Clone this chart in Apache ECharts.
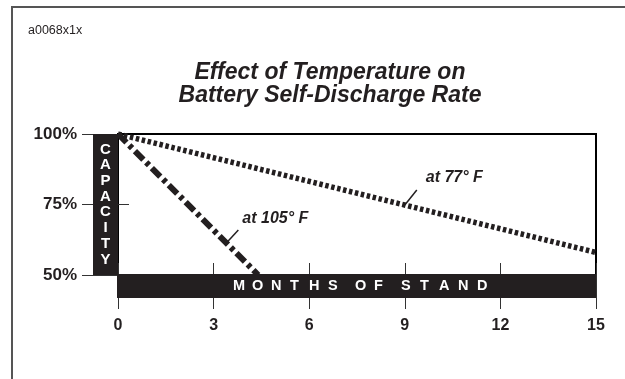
<!DOCTYPE html>
<html>
<head>
<meta charset="utf-8">
<title>Effect of Temperature on Battery Self-Discharge Rate</title>
<script src="https://cdn.jsdelivr.net/npm/echarts@6/dist/echarts.min.js"></script>
<style>
  html, body { margin: 0; padding: 0; background: #fff; }
  #chart { width: 625px; height: 379px; }
</style>
</head>
<body>
<div id="chart"></div>
<script>
  // data
  const monthTicks = [0, 3, 6, 9, 12, 15]
  const capacityTicks = [50, 75, 100]
  const at105F = [[0, 100], [4.4, 50]]
  const at77F = [[0, 100], [15, 58]]
  const seriesNames = ['at 105° F', 'at 77° F']
  const labelMonths = [3.4, 9]          // where each leader line touches its curve
  const xAxisTitle = 'MONTHS OF STAND'
  const yAxisTitle = 'CAPACITY'

  const ink = '#231f20'
  const font = 'Arial, "Liberation Sans", Helvetica, sans-serif'

  let myChart = echarts.init(document.getElementById('chart'))

  const grid = { left: 118, top: 134, width: 478, height: 141 }

  myChart.setOption({
    animation: false,
    backgroundColor: '#fff',
    textStyle: { fontFamily: font },
    title: {
      text: 'Effect of Temperature on\nBattery Self-Discharge Rate',
      left: 325,
      top: 56,
      textAlign: 'center',
      textStyle: {
        fontFamily: font,
        fontSize: 23,
        fontWeight: 'bold',
        fontStyle: 'italic',
        lineHeight: 23,
        color: ink
      }
    },
    grid: Object.assign({ show: true, borderColor: '#000', borderWidth: 2, backgroundColor: 'transparent' }, grid),
    xAxis: [
      {
        type: 'value',
        min: monthTicks[0],
        max: monthTicks[monthTicks.length - 1],
        interval: 3,
        position: 'bottom',
        splitLine: { show: false },
        axisLine: { show: false },
        axisTick: { show: true, length: 34, lineStyle: { color: '#333', width: 1 } },
        axisLabel: {
          margin: 43,
          fontSize: 16,
          fontWeight: 'bold',
          color: ink,
          fontFamily: font
        }
      },
      {
        // short ticks poking up from the month bar
        type: 'value',
        min: monthTicks[0],
        max: monthTicks[monthTicks.length - 1],
        interval: 3,
        position: 'bottom',
        splitLine: { show: false },
        axisLine: { show: false },
        axisTick: { show: true, inside: true, length: 12, lineStyle: { color: '#333', width: 1 } },
        axisLabel: { show: false }
      }
    ],
    yAxis: {
      type: 'value',
      min: capacityTicks[0],
      max: capacityTicks[capacityTicks.length - 1],
      interval: 25,
      splitLine: { show: false },
      axisLine: { show: false },
      axisTick: { show: true, length: 36, lineStyle: { color: '#333', width: 1 } },
      axisLabel: {
        margin: 41,
        fontSize: 17,
        fontWeight: 'bold',
        color: ink,
        fontFamily: font,
        formatter: '{value}%'
      }
    },
    series: [
      {
        name: seriesNames[0],
        type: 'line',
        data: at105F,
        symbol: 'none',
        z: 3,
        lineStyle: { color: ink, width: 6, type: [12, 4, 4, 4], cap: 'butt' }
      },
      {
        name: seriesNames[1],
        type: 'line',
        data: at77F,
        symbol: 'none',
        z: 3,
        lineStyle: { color: ink, width: 5.5, type: [3.5, 2.6], cap: 'butt' }
      }
    ]
  })

  // overlays: black axis bars, spaced letters, leader labels
  function drawOverlays() {
    const p0 = myChart.convertToPixel({ gridIndex: 0 }, [monthTicks[0], capacityTicks[0]])
    const p1 = myChart.convertToPixel({ gridIndex: 0 }, [monthTicks[monthTicks.length - 1], capacityTicks[capacityTicks.length - 1]])
    const left = p0[0], bottom = p0[1], right = p1[0], top = p1[1]
    const els = []

    // frame of the figure (only top and left edges fall inside the picture)
    els.push({ type: 'rect', shape: { x: 12, y: 7, width: 700, height: 500 }, style: { fill: null, stroke: '#555', lineWidth: 2 }, z: 1 })
    els.push({ type: 'text', left: 28, top: 24, style: { text: 'a0068x1x', font: '12.5px ' + font, fill: ink }, z: 5 })

    // capacity bar
    els.push({ type: 'rect', shape: { x: left - 25, y: top, width: 25, height: bottom - top }, style: { fill: ink }, z: 50 })
    const pitchY = 15.7
    const yMid = (top + bottom) / 2
    yAxisTitle.split('').forEach((ch, i) => {
      els.push({
        type: 'text', x: left - 12.5, y: yMid + (i - (yAxisTitle.length - 1) / 2) * pitchY,
        style: { text: ch, font: 'bold 15px ' + font, fill: '#fff', align: 'center', verticalAlign: 'middle' }, z: 60
      })
    })

    // months bar
    els.push({ type: 'rect', shape: { x: left - 1, y: bottom - 1, width: right - left + 1, height: 24 }, style: { fill: ink }, z: 50 })
    const pitchX = 19, wordGap = 8
    let widths = 0
    xAxisTitle.split('').forEach(ch => { widths += ch === ' ' ? wordGap : pitchX })
    let cx = (left + right) / 2 + 3 - (widths - 9) / 2
    xAxisTitle.split('').forEach(ch => {
      if (ch === ' ') { cx += wordGap; return }
      els.push({
        type: 'text', x: cx, y: bottom + 11,
        style: { text: ch, font: 'bold 14.5px ' + font, fill: '#fff', align: 'left', verticalAlign: 'middle' }, z: 60
      })
      cx += pitchX
    })

    // inner tick at 75%
    const p75 = myChart.convertToPixel({ gridIndex: 0 }, [0, capacityTicks[1]])
    els.push({ type: 'line', shape: { x1: p75[0], y1: p75[1], x2: p75[0] + 11, y2: p75[1] }, style: { stroke: '#333', lineWidth: 1 }, z: 40 })

    // series labels with leader lines
    const curves = [at105F, at77F]
    const offsets = [[12, -13, 16, -24], [12, -15, 21, -27]]
    curves.forEach((pts, k) => {
      const m = labelMonths[k]
      const a = pts[0], b = pts[1]
      const v = a[1] + (b[1] - a[1]) * (m - a[0]) / (b[0] - a[0])
      const p = myChart.convertToPixel({ gridIndex: 0 }, [m, v])
      const o = offsets[k]
      els.push({ type: 'line', shape: { x1: p[0], y1: p[1], x2: p[0] + o[0], y2: p[1] + o[1] }, style: { stroke: ink, lineWidth: 1.5 }, z: 40 })
      els.push({
        type: 'text', x: p[0] + o[2], y: p[1] + o[3],
        style: { text: seriesNames[k], font: 'italic bold 16px ' + font, fill: ink, align: 'left', verticalAlign: 'middle' }, z: 40
      })
    })

    myChart.setOption({ graphic: { elements: els } })
  }

  drawOverlays()
</script>
</body>
</html>
